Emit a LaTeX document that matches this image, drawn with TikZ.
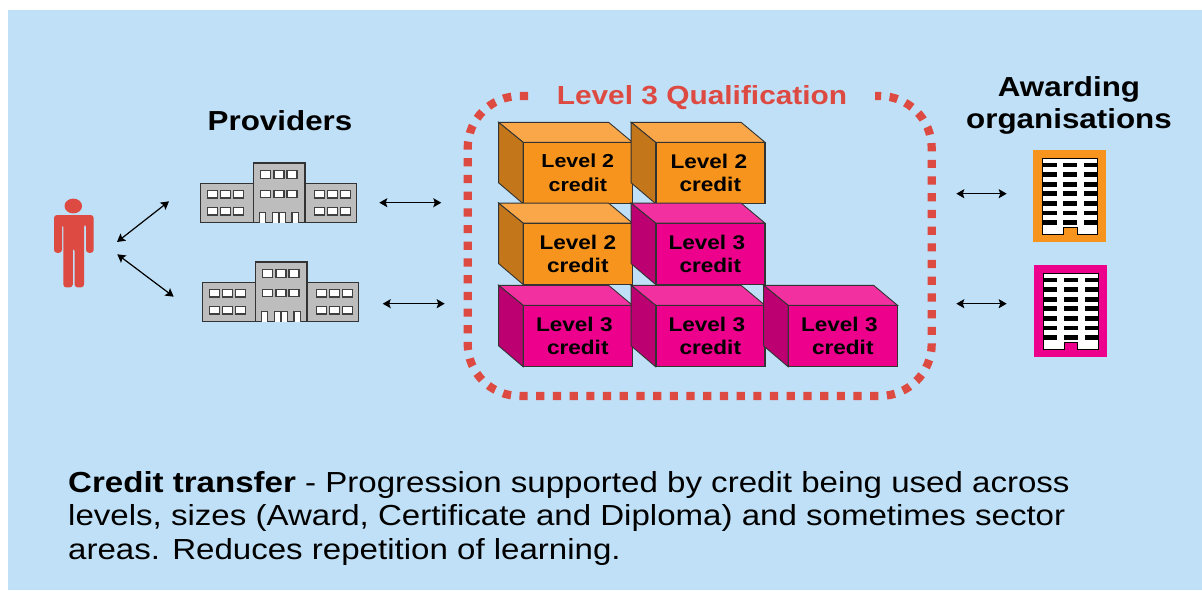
\documentclass[tikz,border=0pt]{standalone}
\usepackage{fontspec}
\setmainfont[FakeStretch=1.14]{Liberation Sans}
\usetikzlibrary{arrows.meta}
\definecolor{bgblue}{HTML}{BFE0F6}
\definecolor{qred}{HTML}{DD4A42}
\definecolor{orfront}{HTML}{F7941D}
\definecolor{ortop}{HTML}{FAA74A}
\definecolor{orside}{HTML}{C4771A}
\definecolor{pkfront}{HTML}{EC008C}
\definecolor{pktop}{HTML}{F230A0}
\definecolor{pkside}{HTML}{BD0071}
\definecolor{bldg}{HTML}{BDBDBD}
\newcommand{\fs}[2]{\fontsize{#1}{#2}\selectfont}
\newcommand{\lthree}{Level 3\hspace*{7pt}}
\tikzset{
  link/.style={{Stealth[length=8pt,width=9pt,inset=1.5pt]}-{Stealth[length=8pt,width=9pt,inset=1.5pt]},line width=1.2pt,black},
  heading/.style={font=\fs{27.5}{32}\bfseries,align=center,inner sep=0pt},
  front/.style={draw=black!80,line width=0.9pt,minimum width=108.5pt,minimum height=60.5pt,inner sep=0pt,align=center,font=\fs{#1}{23.5}\bfseries},
  front/.default=19.8,
  wall/.style={fill=bldg,draw=black!80,line width=1.1pt},
  win/.style={fill=white,draw=black!75,line width=1.3pt},
  bar/.style={fill=black,draw=none}
}
% #1 name, #2 colour prefix, #3 centre, #4 font size, #5 text
\newcommand{\creditbox}[5]{%
  \node[front=#4,fill=#2front] (#1) at (#3) {#5};
  \fill[#2top,draw=black!80,line width=0.9pt] (#1.north west) -- ++(-24.5,-20) -- ++(110,0) -- (#1.north east) -- cycle;
  \fill[#2side,draw=black!80,line width=0.9pt] (#1.north west) -- ++(-24.5,-20) -- ++(0,60.5) -- (#1.south west) -- cycle;
  \draw[black!80,line width=0.9pt] (#1.north west) rectangle (#1.south east);
}
\newcommand{\building}[3]{%
  \begin{scope}[shift={(#1,#2)}]
    \coordinate (#3) at (78,30);
    \path[wall] (0,20.3) -- (53,20.3) -- (53,0) -- (104.7,0) -- (104.7,20.3) -- (156.4,20.3) -- (156.4,59.7) -- (0,59.7) -- cycle;
    \draw[black!80,line width=1.1pt] (53,20.3) -- (53,59.7) (104.7,20.3) -- (104.7,59.7);
    \foreach \x in {7,20.4,33.4,114,127.4,140}{
      \draw[win] (\x,27.7) rectangle ++(10,7.3);
      \draw[win] (\x,44.3) rectangle ++(10,7.7);
    }
    \foreach \x in {60.4,73.7,86.7}{
      \draw[win] (\x,7.3) rectangle ++(10,8);
      \draw[win] (\x,27.2) rectangle ++(10,7.6);
    }
    \foreach \x/\w in {59/6.4,72/6,78.7/6.7,91.7/6.7}{
      \draw[win] (\x,59.7) -- ++(0,-10.4) -- ++(\w,0) -- ++(0,10.4);
    }
  \end{scope}
}
% #1 x, #2 y, #3 colour, #4 name
\newcommand{\awardicon}[4]{%
  \begin{scope}[shift={(#1,#2)}]
    \fill[#3] (0,0) rectangle (73,92.7);
    \coordinate (#4) at (36.5,46);
    \path[fill=white,draw=black,line width=0.8pt] (9.3,8.6) -- (64,8.6) -- (64,85) -- (43.7,85) -- (43.7,77.6) -- (30,77.6) -- (30,85) -- (9.3,85) -- cycle;
    \foreach \y in {15.3,25,34.6,44,53.6,63.3,72.6}{
      \fill[bar] (10,\y-2.4) rectangle ++(13.4,4.8);
      \fill[bar] (30,\y-2.4) rectangle ++(13.7,4.8);
      \fill[bar] (50.7,\y-2.4) rectangle ++(13.3,4.8);
    }
  \end{scope}
}
\begin{document}
\begin{tikzpicture}[x=1pt,y=-1pt]
\useasboundingbox (0,0) rectangle (1202,590);
\fill[white] (0,0) rectangle (1202,590);
\fill[bgblue] (8,10) rectangle (1202,590);

% person
\fill[qred] (73.3,206) ellipse[x radius=8.8,y radius=7.4];
\fill[qred,rounded corners=3pt] (54,252.8) -- (54,215) -- (93.7,215) -- (93.7,252.8) -- (86,252.8) -- (86,224) -- (84,224) -- (84,287.4) -- (74.6,287.4) -- (74.6,248) -- (72.8,248) -- (72.8,287.4) -- (63.3,287.4) -- (63.3,224) -- (62,224) -- (62,252.8) -- cycle;
\coordinate (person up) at (117,242);
\coordinate (person down) at (117.3,254.3);

% providers
\node[heading] (providers) at (280,121) {Providers};
\building{200.3}{163}{prov a}
\building{202.3}{262}{prov b}
\coordinate (prov a in) at (169,201.3);
\coordinate (prov b in) at (173.7,296.7);
\draw[link] (person up) -- (prov a in);
\draw[link] (person down) -- (prov b in);

\coordinate (prov a out) at (379.3,202.7);
\coordinate (qual a in) at (441.3,202.7);
\coordinate (prov b out) at (382.7,303.7);
\coordinate (qual b in) at (444.7,303.7);
\draw[link] (prov a out) -- (qual a in);
\draw[link] (prov b out) -- (qual b in);

% qualification outline
\draw[qred,line width=8.2pt,dash pattern=on 8.2pt off 8.5pt,rounded corners=52pt]
  (528,96) -- (467.7,96) -- (467.7,396) -- (931.7,396) -- (931.7,96) -- (875,96);
\node[heading,text=qred,font=\fs{26.2}{32}\bfseries] (qual) at (702,98) {Level 3 Qualification};

% credit boxes, back rows first
\creditbox{c11}{or}{577.8,173}{18.8}{Level 2\\credit}
\creditbox{c12}{or}{710.3,173}{19.8}{Level 2\hspace*{3pt}\\credit}
\creditbox{c21}{or}{577.8,253.8}{19.8}{Level 2\\credit}
\creditbox{c22}{pk}{710.3,253.8}{19.8}{\lthree\\credit}
\creditbox{c31}{pk}{577.8,336}{19.8}{\lthree\\credit}
\creditbox{c32}{pk}{710.3,336}{19.8}{\lthree\\credit}
\creditbox{c33}{pk}{842.8,336}{19.8}{\lthree\\credit}

% awarding organisations
\node[heading] (awarding) at (1069,105) {Awarding\\organisations};
\coordinate (qual c out) at (956.3,193.7);
\coordinate (award a) at (1006.7,193.7);
\coordinate (qual d out) at (956.3,303.7);
\coordinate (award b) at (1006.7,303.7);
\draw[link] (qual c out) -- (award a);
\draw[link] (qual d out) -- (award b);
\awardicon{1033.3}{149.7}{orfront}{icon a}
\awardicon{1034}{264.6}{pkfront}{icon b}

% caption
\node[anchor=north west,align=left,inner sep=0pt,font=\fs{29}{33.5}] (caption) at (68,471) {\textbf{Credit transfer} - Progression supported by credit being used across\\levels, sizes (Award, Certificate and Diploma) and sometimes sector\\areas. Reduces repetition of learning.};
\end{tikzpicture}
\end{document}
